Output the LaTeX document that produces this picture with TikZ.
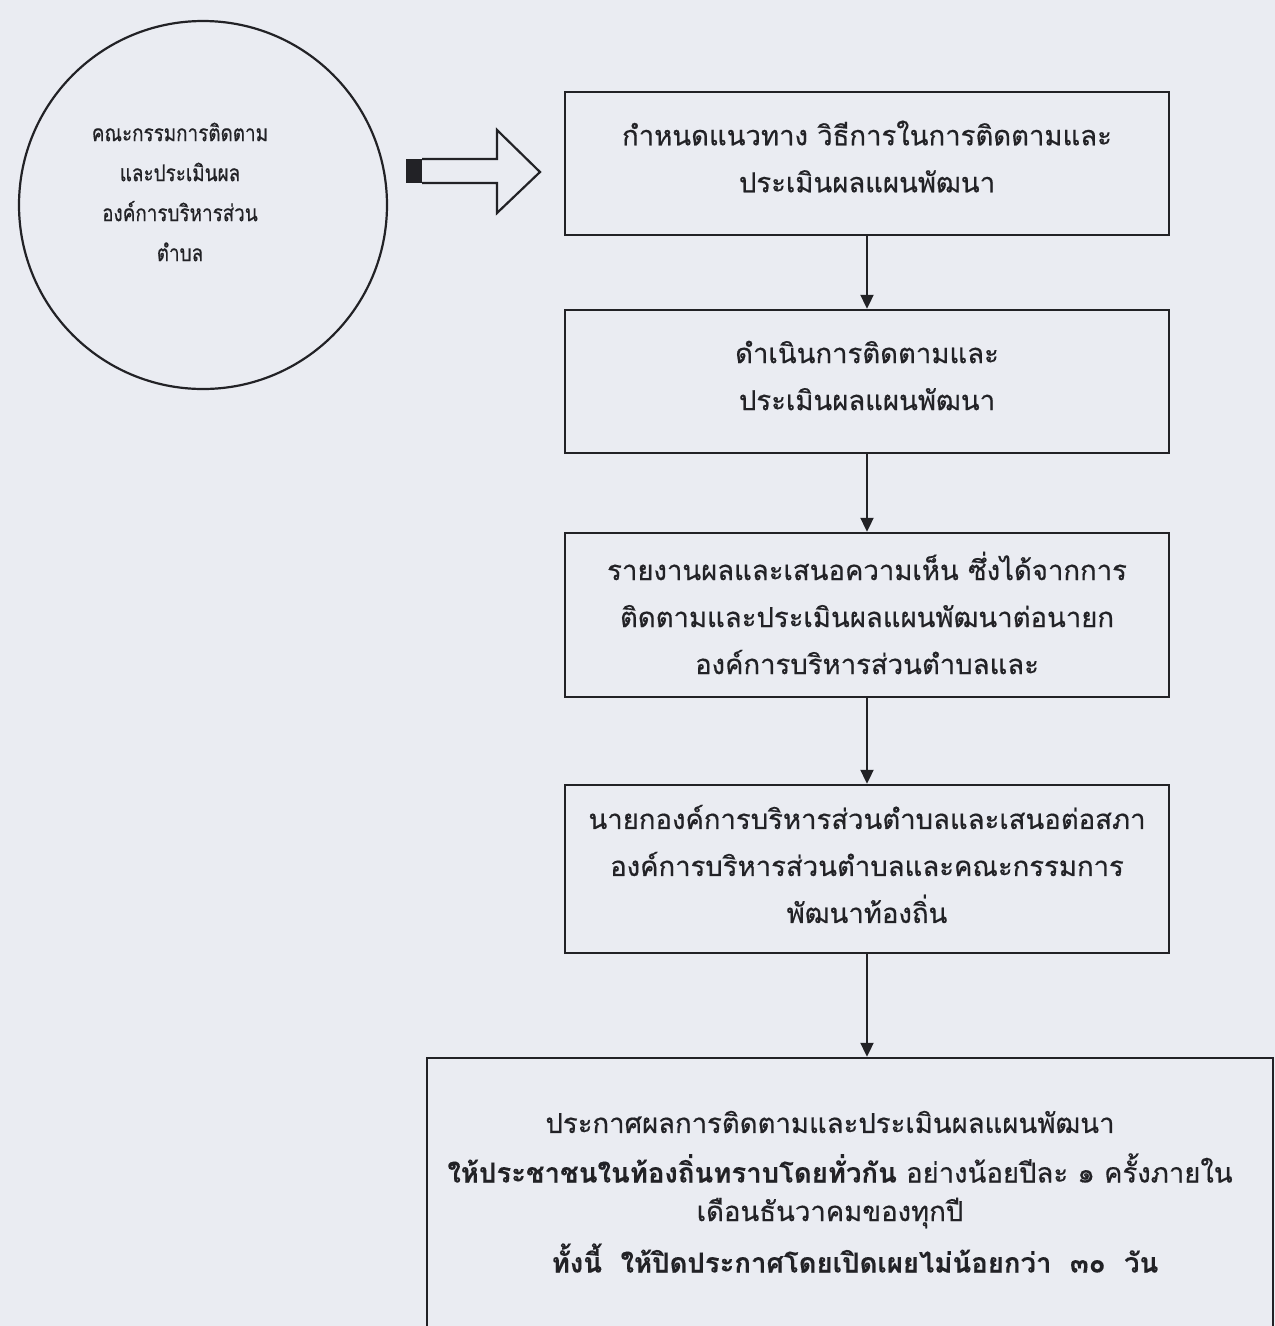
\documentclass[tikz,border=0pt]{standalone}
\usepackage{fontspec}
\newfontfamily\thai[Script=Thai, UprightFeatures={FakeBold=0.5}, BoldFeatures={FakeBold=0.1}]{Loma}
\newfontfamily\thainarrow[Script=Thai, FakeStretch=0.82, FakeBold=0.5]{Loma}
\usetikzlibrary{arrows.meta}
\definecolor{paper}{RGB}{234,236,242}
\definecolor{ink}{RGB}{34,34,38}

\begin{document}
\begin{tikzpicture}[x=1pt,y=-1pt,
  box/.style={draw=ink, line width=2.4pt, inner sep=0pt},
  txt/.style={text=ink, align=center, font=\thai\fontsize{27.5}{47}\selectfont},
  ctxt/.style={text=ink, align=center, font=\thainarrow\fontsize{23}{40}\selectfont},
  flow/.style={draw=ink, line width=2pt, -{Triangle[length=14pt,width=13pt]}}]

\fill [paper] (0,0) rectangle (1275,1326);
\useasboundingbox (0,0) rectangle (1275,1326);
\clip (0,0) rectangle (1275,1326);

% committee
\node [circle, draw=ink, line width=2.2pt, minimum size=368pt] (kc) at (203,205) {};
\node [ctxt] (kct) at (180,192) {คณะกรรมการติดตาม\\และประเมินผล\\องค์การบริหารส่วน\\ตำบล};

% block arrow
\coordinate (pa) at (406,159);
\fill [ink] (pa) rectangle (422,183);
\draw [ink, line width=2.2pt, line join=miter] (422,159) -- (497,159) -- (497,130) -- (540,172) -- (497,213) -- (497,183) -- (422,183);

% steps
\node [box, minimum width=604pt, minimum height=143pt] (b1) at (867,163.5) {};
\node [txt] (t1) at (b1) [yshift=7pt] {กำหนดแนวทาง วิธีการในการติดตามและ\\ประเมินผลแผนพัฒนา};

\node [box, minimum width=604pt, minimum height=143pt] (b2) at (867,381.5) {};
\node [txt] (t2) at (b2) [yshift=6pt] {ดำเนินการติดตามและ\\ประเมินผลแผนพัฒนา};

\node [box, minimum width=604pt, minimum height=164pt] (b3) at (867,615) {};
\node [txt] (t3) at (b3) [yshift=2pt] {รายงานผลและเสนอความเห็น ซึ่งได้จากการ\\ติดตามและประเมินผลแผนพัฒนาต่อนายก\\องค์การบริหารส่วนตำบลและ};

\node [box, minimum width=604pt, minimum height=168pt] (b4) at (867,869) {};
\node [txt] (t4) at (b4) [yshift=5pt] {นายกองค์การบริหารส่วนตำบลและเสนอต่อสภา\\องค์การบริหารส่วนตำบลและคณะกรรมการ\\พัฒนาท้องถิ่น};

\node [box, minimum width=846pt, minimum height=300pt] (b5) at (850,1208) {};
\node [txt] (t5a) at (830,1122) {ประกาศผลการติดตามและประเมินผลแผนพัฒนา};
\node [txt] (t5b) at (840,1168) {\textbf{ให้ประชาชนในท้องถิ่นทราบโดยทั่วกัน} อย่างน้อยปีละ ๑ ครั้งภายใน};
\node [txt] (t5c) at (830,1213) {เดือนธันวาคมของทุกปี};
\node [txt] (t5d) at (855,1258) {\textbf{ทั้งนี้~ ให้ปิดประกาศโดยเปิดเผยไม่น้อยกว่า~ ๓๐~ วัน}};

\draw [flow] (b1) -- (b2);
\draw [flow] (b2) -- (b3);
\draw [flow] (b3) -- (b4);
\draw [flow] (b4.south) -- (b4.south |- b5.north);

\end{tikzpicture}
\end{document}
